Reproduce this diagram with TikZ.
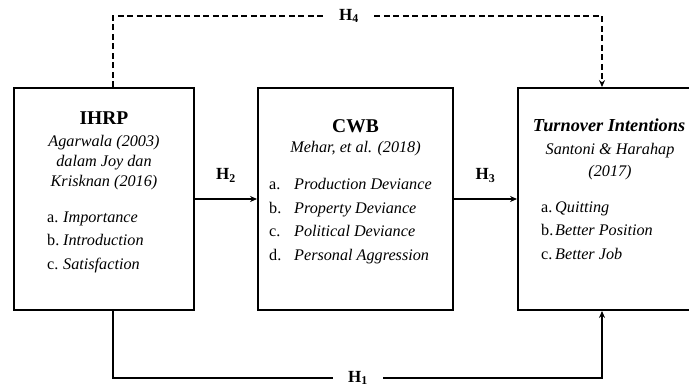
\documentclass[tikz,border=0pt]{standalone}
\usepackage{fontspec}
\setmainfont{Liberation Serif}
\usepackage{tikz}
\usetikzlibrary{
    arrows.meta,
    positioning
}

\newcommand{\itm}[3]{\makebox[#1][l]{#2}\textit{#3}}

\begin{document}
\begin{tikzpicture}[
        x=1pt, y=-1pt,
        >={Stealth[length=7pt,width=6pt]},
        box/.style={
            draw,
            line width=1.9pt,
            inner sep=0pt,
            minimum height=222pt
        },
        title/.style={
            font=\fontsize{19.5}{22}\selectfont\bfseries,
            anchor=base,
            inner sep=0pt
        },
        ref/.style={
            font=\fontsize{16.2}{20}\selectfont\itshape,
            align=center,
            anchor=north,
            inner sep=0pt
        },
        items/.style={
            font=\fontsize{16.2}{23.5}\selectfont,
            align=left,
            anchor=north west,
            inner sep=0pt
        },
        hyp/.style={
            font=\fontsize{17}{20}\selectfont\bfseries,
            fill=white,
            inner ysep=3pt,
            inner xsep=15pt
        },
        link/.style={line width=1.5pt}
    ]

    \useasboundingbox (0,0) rectangle (689,386);

    \node[box, minimum width=180pt] (IHRP) at (104,199) {};
    \node[box, minimum width=195pt] (CWB) at (355.5,199) {};
    \node[box, minimum width=184pt] (TI) at (610,199) {};

    \node[title] (IHRPt) at (104,124) {IHRP};
    \node[ref] (IHRPr) at (104,135.5) {Agarwala (2003)\\dalam Joy dan\\Krisknan (2016)};
    \node[items] (IHRPi) at (47,211.5) {\itm{16pt}{a.}{Importance}\\\itm{16pt}{b.}{Introduction}\\\itm{16pt}{c.}{Satisfaction}};

    \node[title] (CWBt) at (355.5,132) {CWB};
    \node[ref, anchor=base] (CWBr) at (355.5,152) {Mehar, et al. (2018)};
    \node[items] (CWBi) at (269,178.5) {\itm{25pt}{a.}{Production Deviance}\\\itm{25pt}{b.}{Property Deviance}\\\itm{25pt}{c.}{Political Deviance}\\\itm{25pt}{d.}{Personal Aggression}};

    \node[title, font=\fontsize{18.3}{22}\selectfont\bfseries\itshape] (TIt) at (609,131.5) {Turnover Intentions};
    \node[ref, font=\fontsize{16.2}{22}\selectfont\itshape] (TIr) at (610,143) {Santoni \& Harahap\\(2017)};
    \node[items] (TIi) at (541,201.5) {\itm{14pt}{a.}{Quitting}\\\itm{14pt}{b.}{Better Position}\\\itm{14pt}{c.}{Better Job}};

    \coordinate (h4l) at (113,16);
    \coordinate (h4r) at (602,16);
    \coordinate (h1l) at (113,378);
    \coordinate (h1r) at (602,378);

    \draw[link, ->] (IHRP.east) -- node[hyp, fill=none, inner xsep=3pt, above=13pt] (H2) {H\textsubscript{2}} (CWB.west);
    \draw[link, ->] (CWB.east) -- node[hyp, fill=none, inner xsep=3pt, above=13pt] (H3) {H\textsubscript{3}} (TI.west);

    \draw[link, dash pattern=on 6pt off 3.5pt, ->] (IHRP.north -| h4l) |- (h4r) -- (TI.north -| h4r);
    \node[hyp] (H4) at (349,16) {H\textsubscript{4}};

    \draw[link, ->] (IHRP.south -| h1l) |- (h1r) -- (TI.south -| h1r);
    \node[hyp] (H1) at (358,378) {H\textsubscript{1}};

\end{tikzpicture}
\end{document}
